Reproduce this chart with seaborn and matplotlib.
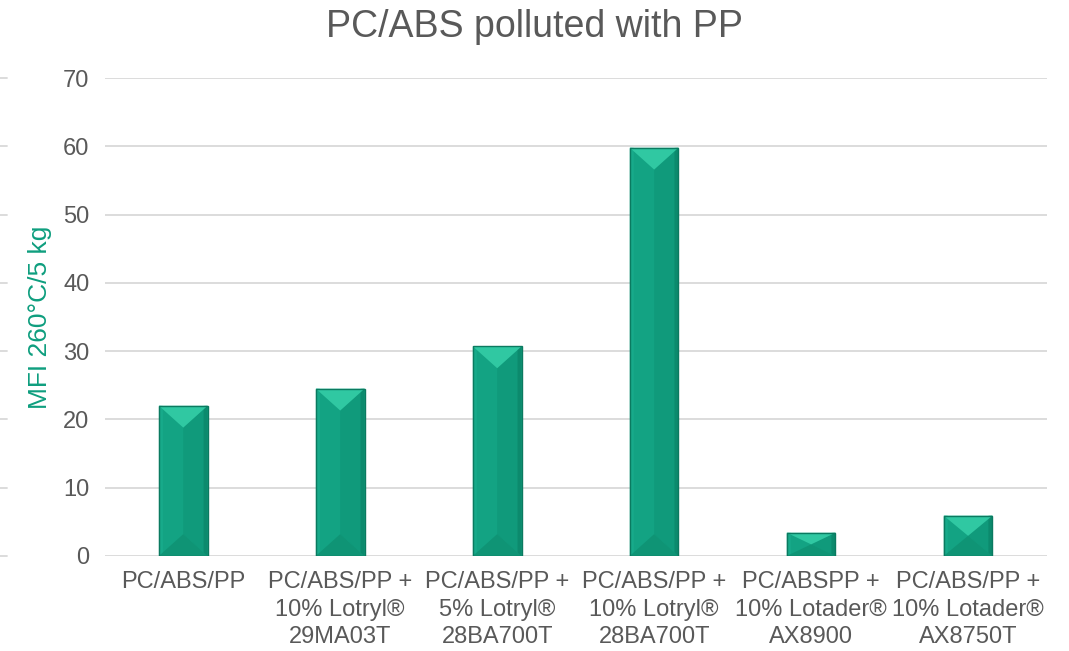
import matplotlib
matplotlib.use("Agg")
import matplotlib.pyplot as plt
from matplotlib.patches import Polygon
import matplotlib.transforms as mtransforms
import seaborn as sns
import pandas as pd

categories = [
    "PC/ABS/PP",
    "PC/ABS/PP +\n10% Lotryl®\n29MA03T",
    "PC/ABS/PP +\n5% Lotryl®\n28BA700T",
    "PC/ABS/PP +\n10% Lotryl®\n28BA700T",
    "PC/ABSPP +\n10% Lotader®\nAX8900",
    "PC/ABS/PP +\n10% Lotader®\nAX8750T",
]
mfi = [22.0, 24.5, 30.7, 59.8, 3.4, 5.9]
yticks = [0, 10, 20, 30, 40, 50, 60, 70]

df = pd.DataFrame({"cat": categories, "mfi": mfi})

sns.set_theme(style="white")
plt.rcParams["font.family"] = ["Liberation Sans", "DejaVu Sans"]

fig = plt.figure(figsize=(10.69, 6.51), dpi=100)
ax = fig.add_axes([0.098, 0.146, 0.881, 0.734])

base = "#13A383"
sns.barplot(data=df, x="cat", y="mfi", color=base, saturation=1, width=0.31, ax=ax, zorder=3)

# bevel shading derived from the drawn bars
for p in list(ax.patches):
    x0, y0 = p.get_x(), p.get_y()
    w, h = p.get_width(), p.get_height()
    x1, y1 = x0 + w, y0 + h
    xm = x0 + w / 2
    bbox = ax.transData.transform([[x0, y0], [x1, y1]])
    pxw = bbox[1][0] - bbox[0][0]
    pxh = bbox[1][1] - bbox[0][1]
    d_px = min(pxw / 2, pxh / 2)
    d = d_px * h / pxh if pxh > 0 else 0
    e = 4 * w / pxw  # side strip width (~4 px)
    p.set_facecolor(base)
    p.set_edgecolor("none")
    ax.add_patch(Polygon([[xm, y0 + d], [x1, y0], [x1, y1], [xm, y1 - d]],
                         closed=True, facecolor="#109A7B", edgecolor="none", zorder=3.1))
    ax.add_patch(Polygon([[x1 - e, y0 + e], [x1, y0], [x1, y1], [x1 - e, y1 - e]],
                         closed=True, facecolor="#0C8A6D", edgecolor="none", zorder=3.15))
    ax.add_patch(Polygon([[x0, y0], [x0 + e, y0 + e], [x0 + e, y1 - e], [x0, y1]],
                         closed=True, facecolor="#17AA8A", edgecolor="none", zorder=3.15))
    ax.add_patch(Polygon([[x0, y0], [x1, y0], [xm, y0 + d]],
                         closed=True, facecolor="#0F9475", edgecolor="none", zorder=3.2))
    ax.add_patch(Polygon([[x0, y1], [x1, y1], [xm, y1 - d]],
                         closed=True, facecolor="#30C8A2", edgecolor="none", zorder=3.3))
    ax.add_patch(Polygon([[x0, y0], [x1, y0], [x1, y1], [x0, y1]],
                         closed=True, facecolor="none", edgecolor="#0B7A60", linewidth=1.0, zorder=3.4))

ax.set_ylim(0, 70)
ax.set_yticks(yticks)
ax.set_yticklabels([str(t) for t in yticks])
ax.set_xlim(-0.5, len(categories) - 0.5)
ax.yaxis.grid(True, color="#D9D9D9", linewidth=1.3, zorder=0)
ax.set_axisbelow(True)
for s in ax.spines.values():
    s.set_visible(False)
ax.tick_params(axis="both", length=0, colors="#595959", labelsize=17)
ax.tick_params(axis="y", pad=11)
ax.tick_params(axis="x", pad=11)
for lab in ax.get_xticklabels():
    lab.set_linespacing(1.32)
ax.set_xlabel("")
ax.set_ylabel("MFI 260°C/5 kg", color="#0E9E7E", fontsize=19, labelpad=8)
fig.suptitle("PC/ABS polluted with PP", color="#595959", fontsize=27, x=0.5, y=0.986, va="top")

# faint stub marks at the far left edge of the figure
trans = mtransforms.blended_transform_factory(fig.transFigure, ax.transData)
for t in yticks:
    ax.plot([0.0, 0.007], [t, t], transform=trans, color="#D9D9D9", linewidth=1.3, clip_on=False)

fig.savefig("out.png", dpi=100)
